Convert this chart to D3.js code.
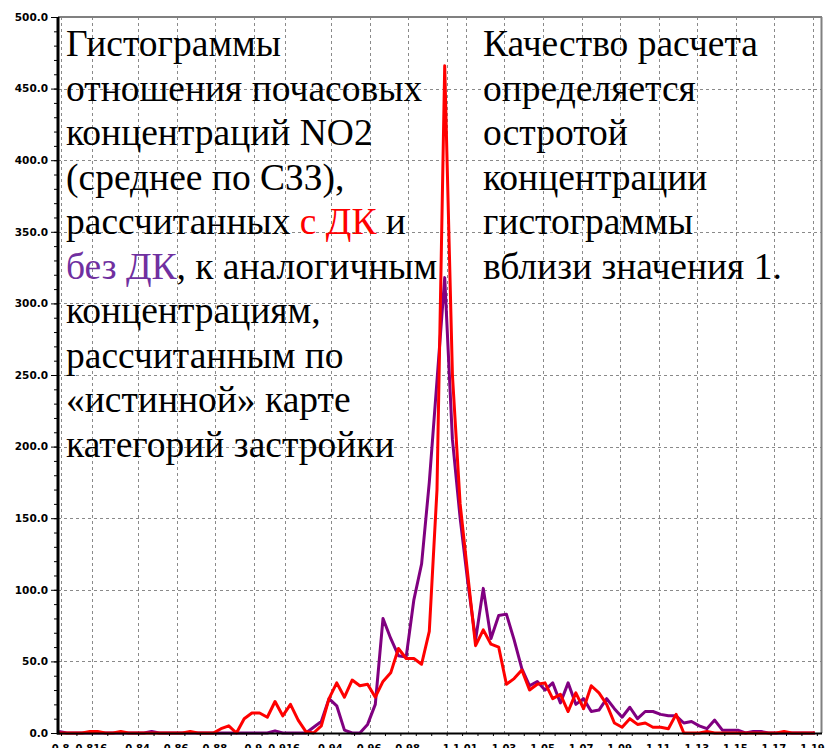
<!DOCTYPE html>
<html><head><meta charset="utf-8">
<script src="https://cdn.jsdelivr.net/npm/d3@7"></script>
<style>body{margin:0;background:#fff} svg{display:block}</style>
</head><body><svg id="c" width="825" height="748"></svg>
<script>
// Bin centres (ratio of concentrations)
const bins = [
 0.799,0.803,0.807,0.811,0.815,0.819,0.823,0.827,0.831,0.835,
 0.839,0.843,0.847,0.851,0.855,0.859,0.863,0.867,0.871,0.875,
 0.879,0.883,0.887,0.891,0.895,0.899,0.903,0.907,0.911,0.915,
 0.919,0.923,0.927,0.931,0.935,0.939,0.943,0.947,0.951,0.955,
 0.959,0.963,0.967,0.971,0.975,0.979,0.983,0.987,0.991,0.995,
 0.999,1.003,1.007,1.011,1.015,1.019,1.023,1.027,1.031,1.035,
 1.039,1.043,1.047,1.051,1.055,1.059,1.063,1.067,1.071,1.075,
 1.079,1.083,1.087,1.091,1.095,1.099,1.103,1.107,1.111,1.115,
 1.119,1.123,1.127,1.131,1.135,1.139,1.143,1.147,1.151,1.155,
 1.159,1.163,1.167,1.171,1.175,1.179,1.183,1.187,1.191
];
// red: computed with DK
const withDK = [
 0,0,0,0,1,1,0,0,1,0,
 0,0,0,0,0,0,0,1,0,0,
 0,3,5,0,10,14,14,11,22,12,
 20,9,1,0,5,24,35,25,37,33,
 34,25,36,42,59,52,52,48,71,170,
 466,250,160,110,61,72,62,60,34,38,
 44,30,34,35,24,27,15,28,17,33,
 28,20,7,4,10,6,7,4,4,3,
 13,0,0,0,1,0,0,0,0,0,
 0,0,0,0,1,0,0,0,0
];
// purple: computed without DK
const withoutDK = [
 1,0,0,0,0,0,0,0,0,0,
 0,0,1,0,0,0,0,0,0,0,
 0,0,0,0,0,0,0,0,1.5,0,
 0,0,0,4,8,24,19,2,0,0,
 6,20,80,66,54,53,93,118,175,246,
 318,205,150,105,65,101,66,82,83,65,
 45,33,36,30,35,21,35,20,24,15,
 16,24,17,11,18,10,15,15,13,12,
 12,7,8,5,3,9,2,2,2,0,
 1,1,0,0,0,0,0,0,0
];
const yTicks = [0,50,100,150,200,250,300,350,400,450,500];
const xTickValues = [0.8,0.816,0.84,0.86,0.88,0.9,0.916,0.94,0.96,0.98,1,1.01,1.03,1.05,1.07,1.09,1.11,1.13,1.15,1.17,1.19];
const xTickLabels = ["0.8","0.816","0.84","0.86","0.88","0.9","0.916","0.94","0.96","0.98","1","1.01","1.03","1.05","1.07","1.09","1.11","1.13","1.15","1.17","1.19"];
const leftLines = [
 [["Гистограммы"]],
 [["отношения почасовых"]],
 [["концентраций NO2"]],
 [["(среднее по СЗЗ),"]],
 [["рассчитанных "],["с ДК","red"],[" и"]],
 [["без ДК","purple"],[", к аналогичным"]],
 [["концентрациям,"]],
 [["рассчитанным по"]],
 [["«истинной» карте"]],
 [["категорий застройки"]]
];
const rightLines = [
 "Качество расчета",
 "определяется",
 "остротой",
 "концентрации",
 "гистограммы",
 "вблизи значения 1."
];
const colors = {red:"#ff0000", purple:"#7030a0", lineRed:"#ff0000", linePurple:"#800080"};

const svg = d3.select("#c");
const x = d3.scaleLinear().domain([0.8, 1.19]).range([61, 813]);
const y = d3.scaleLinear().domain([0, 500]).range([733, 17]);

// gridlines
const grid = svg.append("g").attr("stroke","#8a8a8a").attr("stroke-width",1).attr("stroke-dasharray","3,3");
grid.selectAll("line.v").data(xTickValues).join("line")
  .attr("x1",d=>Math.round(x(d))+0.5).attr("x2",d=>Math.round(x(d))+0.5)
  .attr("y1",y(500)).attr("y2",y(0));
grid.selectAll("line.h").data(yTicks.filter(d=>d>0)).join("line")
  .attr("y1",d=>Math.round(y(d))+0.5).attr("y2",d=>Math.round(y(d))+0.5)
  .attr("x1",58).attr("x2",821);

// text annotations
const tfont = "Liberation Serif, Times New Roman, DejaVu Serif, serif";
const lt = svg.append("text").style("font-family",tfont).attr("font-size",37.5).attr("fill","#000");
leftLines.forEach((segs,i)=>{
  segs.forEach((s,j)=>{
    const ts = lt.append("tspan").text(s[0]).attr("fill", s[1]?colors[s[1]]:"#000");
    if(j===0) ts.attr("x",66).attr("y",56+i*44.5);
  });
});
const rt = svg.append("text").style("font-family",tfont).attr("font-size",37.5).attr("fill","#000");
rightLines.forEach((s,i)=>{
  rt.append("tspan").attr("x",483).attr("y",56+i*44.5).text(s);
});

// series
const line = vals => d3.line().x((d,i)=>x(bins[i])).y(d=>y(d))(vals);
svg.append("path").attr("d",line(withoutDK)).attr("fill","none")
  .attr("stroke",colors.linePurple).attr("stroke-width",3).attr("stroke-linejoin","round");
svg.append("path").attr("d",line(withDK)).attr("fill","none")
  .attr("stroke",colors.lineRed).attr("stroke-width",3).attr("stroke-linejoin","round");

// frame
svg.append("line").attr("x1",58).attr("x2",822).attr("y1",17).attr("y2",17).attr("stroke","#808080").attr("stroke-width",2);
svg.append("line").attr("x1",821.5).attr("x2",821.5).attr("y1",17).attr("y2",733).attr("stroke","#808080").attr("stroke-width",2);

const lfont = "DejaVu Sans, Verdana, sans-serif";
// y axis
const yAxis = svg.append("g").attr("transform","translate(57,0)")
  .call(d3.axisLeft(y).tickValues(yTicks).tickFormat(d3.format(".1f")).tickSize(6).tickPadding(3));
yAxis.select(".domain").remove();
yAxis.selectAll("text").style("font-family",lfont).attr("font-weight","bold").attr("font-size",10.5).attr("fill","#000");
yAxis.selectAll("line").attr("stroke","#000");
const yMinor = svg.append("g").attr("transform","translate(57,0)")
  .call(d3.axisLeft(y).tickValues(d3.range(0,501,10)).tickSize(3).tickFormat(""));
yMinor.select(".domain").remove();
yMinor.selectAll("line").attr("stroke","#000");

// x axis
const xAxis = svg.append("g").attr("transform","translate(0,733)")
  .call(d3.axisBottom(x).tickValues(xTickValues).tickFormat((d,i)=>xTickLabels[i]).tickSize(0));
xAxis.select(".domain").remove();
xAxis.selectAll("text").style("font-family",lfont).attr("font-weight","bold").attr("font-size",10)
  .attr("fill","#000").attr("y",19).attr("dy",0).attr("dx",-1);
const xMinor = svg.append("g").attr("transform","translate(0,733)")
  .call(d3.axisBottom(x).tickValues(d3.range(0.8,1.195,0.008)).tickSize(3).tickFormat(""));
xMinor.select(".domain").remove();
xMinor.selectAll("line").attr("stroke","#000");

// axis lines
svg.append("line").attr("x1",58).attr("x2",58).attr("y1",17).attr("y2",734.5).attr("stroke","#000").attr("stroke-width",3);
svg.append("line").attr("x1",57).attr("x2",822).attr("y1",733.5).attr("y2",733.5).attr("stroke","#000").attr("stroke-width",2);
</script>
</body></html>
